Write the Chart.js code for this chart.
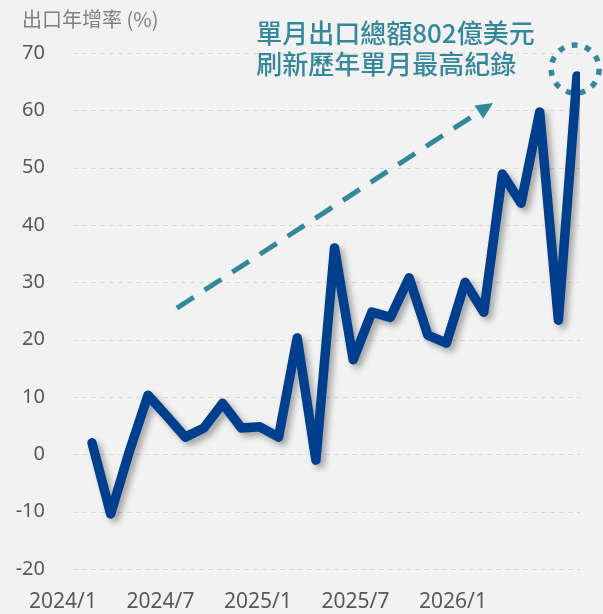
<!DOCTYPE html>
<html>
<head>
<meta charset="utf-8">
<script src="https://cdn.jsdelivr.net/npm/chart.js@4/dist/chart.umd.min.js"></script>
<style>
  html, body { margin: 0; padding: 0; background: #f2f2f2; }
  #wrap { width: 603px; height: 614px; position: relative; }
</style>
</head>
<body>
<div id="wrap"><canvas id="chart-export"></canvas></div>
<script>
// 月份 (2024/1 ~ 2026/3)
var months = ['2024/1','2024/2','2024/3','2024/4','2024/5','2024/6','2024/7','2024/8','2024/9','2024/10','2024/11','2024/12',
              '2025/1','2025/2','2025/3','2025/4','2025/5','2025/6','2025/7','2025/8','2025/9','2025/10','2025/11','2025/12',
              '2026/1','2026/2','2026/3'];
// 出口年增率 (%)
var growth = [2.0, -10.4, 0.5, 10.3, 6.7, 3.0, 4.6, 8.9, 4.6, 4.8, 3.0, 20.3,
              -1.0, 36.0, 16.5, 24.8, 23.9, 30.8, 20.8, 19.4, 30.0, 24.8, 48.9, 43.8,
              59.7, 23.4, 66.0];
var xTickLabels = ['2024/1', '2024/7', '2025/1', '2025/7', '2026/1'];
var yTicks = [-20, -10, 0, 10, 20, 30, 40, 50, 60, 70];
var noteLines = ['單月出口總額802億美元', '刷新歷年單月最高紀錄'];
var axisTitle = '出口年增率 (%)';

var teal = '#35889c';

// sombra da linha
var shadowPlugin = {
    id: 'lineShadow',
    beforeDatasetDraw: function(chart) {
        var ctx = chart.ctx;
        ctx.save();
        ctx.shadowColor = 'rgba(0,0,0,0.32)';
        ctx.shadowBlur = 6;
        ctx.shadowOffsetX = 4;
        ctx.shadowOffsetY = 4;
    },
    afterDatasetDraw: function(chart) {
        chart.ctx.restore();
    }
};

// grade tracejada + anotacoes: titulo, seta, circulo, texto
var notesPlugin = {
    id: 'notes',
    beforeDatasetsDraw: function(chart) {
        var ctx = chart.ctx, xs = chart.scales.x, ys = chart.scales.y, area = chart.chartArea;
        ctx.save();
        // grade
        ctx.strokeStyle = '#d9d9d9';
        ctx.lineWidth = 1;
        ctx.setLineDash([5, 4]);
        yTicks.forEach(function(v) {
            var py = Math.round(ys.getPixelForValue(v)) + 0.5;
            ctx.beginPath();
            ctx.moveTo(area.left, py);
            ctx.lineTo(area.right, py);
            ctx.stroke();
        });
        // seta
        var x0 = xs.getPixelForValue(4.55), y0 = ys.getPixelForValue(25.5);
        var x1 = xs.getPixelForValue(21.5), y1 = ys.getPixelForValue(61.3);
        var ang = Math.atan2(y1 - y0, x1 - x0);
        var head = 17;
        ctx.strokeStyle = teal;
        ctx.fillStyle = teal;
        ctx.lineWidth = 5;
        ctx.setLineDash([20, 13]);
        ctx.beginPath();
        ctx.moveTo(x0, y0);
        ctx.lineTo(x1 - Math.cos(ang) * head * 0.8, y1 - Math.sin(ang) * head * 0.8);
        ctx.stroke();
        ctx.setLineDash([]);
        ctx.beginPath();
        ctx.moveTo(x1, y1);
        ctx.lineTo(x1 - head * Math.cos(ang) + 8 * Math.sin(ang), y1 - head * Math.sin(ang) - 8 * Math.cos(ang));
        ctx.lineTo(x1 - head * Math.cos(ang) - 8 * Math.sin(ang), y1 - head * Math.sin(ang) + 8 * Math.cos(ang));
        ctx.closePath();
        ctx.fill();
        // circulo
        var cx = xs.getPixelForValue(25.9), cy = ys.getPixelForValue(67.2);
        ctx.lineWidth = 5.5;
        ctx.setLineDash([6, 7.6]);
        ctx.beginPath();
        ctx.arc(cx, cy, 24, 0, Math.PI * 2);
        ctx.stroke();
        ctx.restore();
    },
    afterDraw: function(chart) {
        var ctx = chart.ctx, xs = chart.scales.x;
        ctx.save();
        ctx.setLineDash([]);
        ctx.textBaseline = 'middle';
        ctx.textAlign = 'left';
        ctx.fillStyle = '#808080';
        ctx.font = '20px "Noto Sans CJK TC", "Noto Sans"';
        ctx.fillText(axisTitle, 22, 19);
        ctx.fillStyle = teal;
        ctx.font = '500 26px "Noto Sans CJK TC"';
        var tx = xs.getPixelForValue(8.8);
        ctx.fillText(noteLines[0], tx, 33);
        ctx.fillText(noteLines[1], tx, 64);
        ctx.restore();
    }
};

document.addEventListener('DOMContentLoaded', function() {
    var canvas = document.getElementById('chart-export');
    new Chart(canvas, {
        type: 'line',
        data: {
            labels: months,
            datasets: [{
                data: growth.map(function(v, i) { return { x: i, y: v }; }),
                borderColor: '#003e8e',
                borderWidth: 9.5,
                borderJoinStyle: 'round',
                borderCapStyle: 'round',
                pointRadius: 0,
                tension: 0,
                fill: false
            }]
        },
        options: {
            responsive: true, maintainAspectRatio: false, animation: false,
            layout: { padding: { top: 53, right: 23, left: 0, bottom: 0 } },
            plugins: { legend: { display: false }, tooltip: { enabled: false } },
            scales: {
                x: {
                    type: 'linear', min: -1.02, max: 26.16, display: false
                },
                x2: {
                    type: 'linear', position: 'bottom', min: 0.1026, max: 5.303,
                    afterBuildTicks: function(s) { s.ticks = xTickLabels.map(function(l, i) { return { value: i }; }); },
                    afterFit: function(s) { s.height = 45; },
                    ticks: {
                        autoSkip: false, maxRotation: 0, padding: 12,
                        color: '#595959', font: { size: 21, family: '"Noto Sans", sans-serif' },
                        callback: function(v, i) { return xTickLabels[i]; }
                    },
                    grid: { display: false }, border: { display: false }
                },
                y: {
                    min: -20, max: 70,
                    afterBuildTicks: function(s) { s.ticks = yTicks.map(function(v) { return { value: v }; }); },
                    afterFit: function(s) { s.width = 73; },
                    ticks: {
                        padding: 28, color: '#595959',
                        font: { size: 20, family: '"Noto Sans", sans-serif' }
                    },
                    grid: { display: false, drawTicks: false },
                    border: { display: false }
                }
            }
        },
        plugins: [shadowPlugin, notesPlugin]
    });
});
</script>
</body>
</html>
